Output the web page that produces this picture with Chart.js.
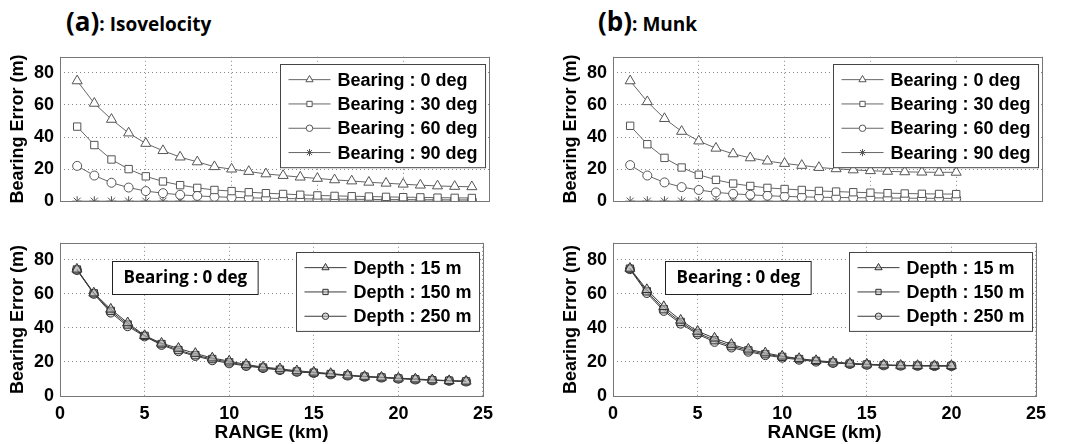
<!DOCTYPE html>
<html>
<head>
<meta charset="utf-8">
<script src="https://cdn.jsdelivr.net/npm/chart.js@4.4.1/dist/chart.umd.min.js"></script>
<style>
  body { margin: 0; background: #fff; width: 1069px; height: 444px; position: relative; overflow: hidden; }
  canvas { position: absolute; }
  .ttl { position: absolute; font-family: "Open Sans", sans-serif; font-weight: 700; color: #000; white-space: nowrap; }
  .ttl .big { font-size: 26px; }
  .ttl .small { font-size: 19px; }
</style>
</head>
<body>
<div class="ttl" style="left:66px; top:3px;"><span class="big">(a)</span><span class="small">: Isovelocity</span></div>
<div class="ttl" style="left:598px; top:3px;"><span class="big">(b)</span><span class="small">: Munk</span></div>
<canvas id="isoBearing" style="left:0px; top:40px;"></canvas>
<canvas id="munkBearing" style="left:553px; top:40px;"></canvas>
<canvas id="isoDepth" style="left:0px; top:226px;"></canvas>
<canvas id="munkDepth" style="left:553px; top:226px;"></canvas>
<script>
// ranges (km)
const rangeIso = [1, 2, 3, 4, 5, 6, 7, 8, 9, 10, 11, 12, 13, 14, 15, 16, 17, 18, 19, 20, 21, 22, 23, 24];
const rangeMunk = [1, 2, 3, 4, 5, 6, 7, 8, 9, 10, 11, 12, 13, 14, 15, 16, 17, 18, 19, 20];

// tick labels
const xTicks = [0, 5, 10, 15, 20, 25];
const yTicks = [0, 20, 40, 60, 80];

// (a) Isovelocity - bearing
const isoB0 = [75, 61, 51, 42.5, 36, 31.5, 27.5, 24.5, 21.5, 20, 18.5, 17, 16, 15, 14.2, 13.3, 12.6, 11.8, 11.2, 10.6, 10, 9.5, 9.2, 9];
const isoB30 = [46.5, 35, 26, 20, 15.5, 12.3, 10, 8.3, 7, 6.3, 5.6, 5, 4.5, 4, 3.6, 3.3, 3.1, 2.9, 2.7, 2.5, 2.4, 2.2, 2.1, 2];
const isoB60 = [22, 16, 11.5, 8.5, 6.3, 5, 4, 3.3, 2.8, 2.4, 2.1, 1.9, 1.7, 1.5, 1.4, 1.3, 1.2, 1.1, 1, 1, 0.9, 0.9, 0.8, 0.8];
const isoB90 = [0, 0, 0, 0, 0, 0, 0, 0, 0, 0, 0, 0, 0, 0, 0, 0, 0, 0, 0, 0, 0, 0, 0, 0];

// (b) Munk - bearing
const munkB0 = [75, 62, 51.5, 43.5, 37.5, 33, 29.5, 27, 25, 23.5, 22.3, 21, 20.2, 19.5, 19, 18.6, 18.3, 18.1, 18, 18];
const munkB30 = [47, 35.5, 27, 21, 16.5, 13.3, 11, 9.5, 8.3, 7.6, 7, 6.4, 6, 5.6, 5.3, 5, 4.8, 4.6, 4.5, 4.4];
const munkB60 = [22.5, 16, 11.7, 8.8, 7, 5.5, 4.6, 4, 3.4, 3, 2.7, 2.5, 2.3, 2.2, 2.1, 2, 1.9, 1.8, 1.8, 1.7];
const munkB90 = [0, 0, 0, 0, 0, 0, 0, 0, 0, 0, 0, 0, 0, 0, 0, 0, 0, 0, 0, 0];

// (a) Isovelocity - depth, bearing 0
const isoD15 = [74.5, 60.5, 51, 43, 35.5, 31, 28, 25, 22.3, 20.5, 18.5, 17, 16, 14.8, 14, 13.2, 12.3, 11.5, 11, 10.5, 10, 9.5, 9, 8.7];
const isoD150 = [74.3, 60.3, 50, 42, 35.3, 30.5, 27, 24, 21.7, 19.8, 18, 16.7, 15.5, 14.4, 13.7, 12.9, 12.1, 11.4, 10.9, 10.3, 9.8, 9.3, 9, 8.6];
const isoD250 = [74, 60, 49, 41, 35, 30, 26.3, 23.5, 21, 19.2, 17.6, 16.4, 15.2, 14.2, 13.5, 12.7, 12, 11.3, 10.8, 10.2, 9.7, 9.2, 8.9, 8.5];

// (b) Munk - depth, bearing 0
const munkD15 = [75, 62.5, 52.5, 44.5, 38, 34, 30.3, 27.5, 25.3, 23.4, 22, 20.8, 20, 19.2, 18.7, 18.3, 18, 17.9, 17.8, 17.8];
const munkD150 = [74.8, 61.5, 51, 43.5, 37, 32.8, 29.3, 26.8, 24.6, 23, 21.7, 20.6, 19.7, 19, 18.5, 18.2, 17.9, 17.8, 17.7, 17.7];
const munkD250 = [74.5, 60.5, 50, 42.5, 36.3, 31.8, 28.5, 26, 24, 22.5, 21.3, 20.2, 19.4, 18.8, 18.3, 18, 17.8, 17.7, 17.6, 17.6];

const bearingLabels = ['Bearing : 0 deg', 'Bearing : 30 deg', 'Bearing : 60 deg', 'Bearing : 90 deg'];
const depthLabels = ['Depth : 15 m', 'Depth : 150 m', 'Depth : 250 m'];
const markers = ['triangle', 'rect', 'circle', 'star'];
const markerSize = { triangle: 5.8, rect: 5.2, circle: 4.5, star: 5 };

const FONT = '"Liberation Sans", Arial, sans-serif';

function toPoints(xs, ys) {
    return ys.map((y, i) => ({ x: xs[i], y: y }));
}

// plot frame, legend box inside the plot area and the optional note box
const boxPlugin = {
    id: 'boxPlugin',
    afterDatasetsDraw(chart, args, opts) {
        const ctx = chart.ctx;
        const a = chart.chartArea;
        ctx.save();
        ctx.strokeStyle = '#777';
        ctx.lineWidth = 1;
        ctx.strokeRect(Math.round(a.left) + 0.5, Math.round(a.top) + 0.5, Math.round(a.right - a.left), Math.round(a.bottom - a.top));

        // legend
        ctx.font = 'bold 18px ' + FONT;
        const sets = chart.data.datasets;
        let tw = 0;
        sets.forEach(ds => { tw = Math.max(tw, ctx.measureText(ds.label).width); });
        const w = 8 + 42 + 7 + tw + 8;
        const rowH = 24.3;
        const h = sets.length * rowH + 6;
        const bx = Math.round(a.right - opts.rightGap - w) + 0.5;
        const by = Math.round(a.top + opts.topGap) + 0.5;
        ctx.fillStyle = '#fff';
        ctx.fillRect(bx, by, w, h);
        ctx.strokeStyle = '#444';
        ctx.strokeRect(bx, by, w, h);
        sets.forEach((ds, i) => {
            const cy = by + 3 + rowH * (i + 0.5);
            ctx.strokeStyle = ds.borderColor;
            ctx.lineWidth = 1;
            ctx.beginPath();
            ctx.moveTo(bx + 8, cy);
            ctx.lineTo(bx + 50, cy);
            ctx.stroke();
            ctx.fillStyle = ds.pointBackgroundColor;
            ctx.strokeStyle = ds.pointBorderColor;
            Chart.helpers.drawPoint(ctx, {
                pointStyle: ds.pointStyle,
                radius: ds.pointRadius * 0.72,
                borderWidth: 1
            }, bx + 29, cy);
            ctx.fillStyle = '#000';
            ctx.textBaseline = 'middle';
            ctx.textAlign = 'left';
            ctx.font = 'bold 18px ' + FONT;
            ctx.fillText(ds.label, bx + 57, cy + 1);
        });

        // note
        if (opts.note) {
            ctx.font = '700 17px "Open Sans", sans-serif';
            const nw = ctx.measureText(opts.note).width + 22;
            const nx = Math.round(a.left + 52) + 0.5;
            const ny = Math.round(a.top + 18) + 0.5;
            ctx.fillStyle = '#fff';
            ctx.fillRect(nx, ny, nw, 33);
            ctx.strokeStyle = '#222';
            ctx.strokeRect(nx, ny, nw, 33);
            ctx.fillStyle = '#000';
            ctx.textBaseline = 'middle';
            ctx.fillText(opts.note, nx + 11, ny + 17);
        }
        ctx.restore();
    }
};

function makeChart(id, w, h, xs, series, labels, bottom, note) {
    const canvas = document.getElementById(id);
    canvas.width = w;
    canvas.height = h;
    canvas.style.width = w + 'px';
    canvas.style.height = h + 'px';
    const datasets = series.map((ys, i) => ({
        label: labels[i],
        data: toPoints(xs, ys),
        showLine: true,
        borderColor: bottom ? '#3a3a3a' : '#666',
        borderWidth: 1,
        pointStyle: markers[i],
        pointRadius: markerSize[markers[i]],
        pointBorderWidth: 1,
        pointBorderColor: bottom ? '#333' : '#555',
        pointBackgroundColor: bottom ? 'rgba(190,190,190,0.55)' : '#fff'
    }));
    return new Chart(canvas, {
        type: 'scatter',
        data: { datasets: datasets },
        options: {
            responsive: false,
            animation: false,
            layout: { padding: { top: bottom ? 8 : 7, right: 11 } },
            plugins: {
                legend: { display: false },
                tooltip: { enabled: false },
                boxPlugin: { rightGap: 4, topGap: bottom ? 9 : 7, note: note }
            },
            scales: {
                x: {
                    type: 'linear',
                    min: 0,
                    max: 25,
                    afterBuildTicks: s => { s.ticks = xTicks.map(v => ({ value: v })); },
                    afterFit: s => { s.height = bottom ? 48 : 10; },
                    grid: { color: '#888', drawTicks: false },
                    border: { display: false, dash: [1, 3] },
                    ticks: {
                        display: bottom,
                        padding: 7,
                        color: '#000',
                        maxRotation: 0,
                        font: { family: FONT, weight: 'bold', size: 18 }
                    },
                    title: {
                        display: bottom,
                        text: 'RANGE (km)',
                        color: '#000',
                        padding: 0,
                        font: { family: FONT, weight: 'bold', size: 19 }
                    }
                },
                y: {
                    min: 0,
                    max: 90,
                    afterBuildTicks: s => { s.ticks = yTicks.map(v => ({ value: v })); },
                    afterFit: s => { s.width = 60; },
                    grid: { color: '#888', drawTicks: false },
                    border: { display: false, dash: [1, 3] },
                    ticks: {
                        padding: 6,
                        color: '#000',
                        font: { family: FONT, weight: 'bold', size: 18 }
                    },
                    title: {
                        display: true,
                        text: 'Bearing Error (m)',
                        color: '#000',
                        padding: { top: 7, bottom: 0 },
                        font: { family: FONT, weight: 'bold', size: 18 }
                    }
                }
            }
        },
        plugins: [boxPlugin]
    });
}

makeChart('isoBearing', 500, 178, rangeIso, [isoB0, isoB30, isoB60, isoB90], bearingLabels, false, null);
makeChart('munkBearing', 500, 178, rangeMunk, [munkB0, munkB30, munkB60, munkB90], bearingLabels, false, null);
makeChart('isoDepth', 500, 218, rangeIso, [isoD15, isoD150, isoD250], depthLabels, true, 'Bearing : 0 deg');
makeChart('munkDepth', 500, 218, rangeMunk, [munkD15, munkD150, munkD250], depthLabels, true, 'Bearing : 0 deg');
</script>
</body>
</html>
